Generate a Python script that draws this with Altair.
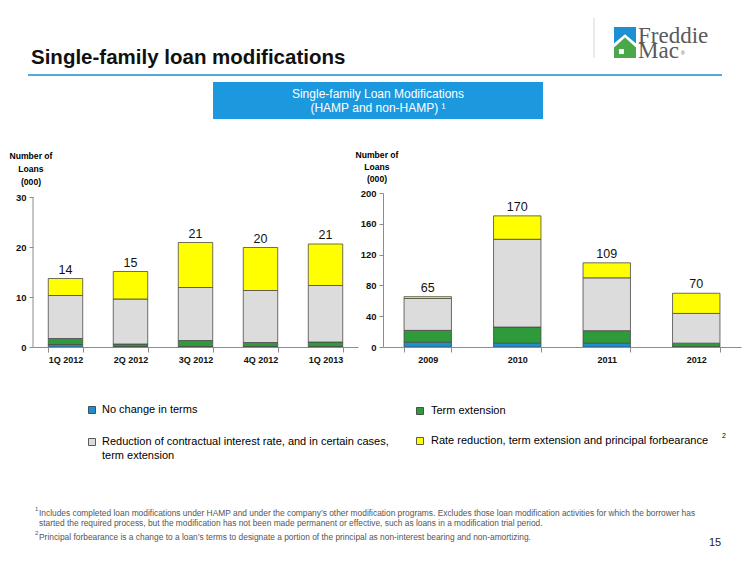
import altair as alt
import pandas as pd

# ---------------- data ----------------
quarters = ["1Q 2012", "2Q 2012", "3Q 2012", "4Q 2012", "1Q 2013"]
q_no_change = [0.5, 0.1, 0.1, 0.1, 0.1]
q_term_ext = [1.2, 0.5, 1.2, 0.8, 0.9]
q_rate_red = [8.6, 9.0, 10.6, 10.4, 11.3]
q_forbear = [3.4, 5.5, 9.0, 8.6, 8.3]
q_labels = ["14", "15", "21", "20", "21"]

years = ["2009", "2010", "2011", "2012"]
y_no_change = [6.3, 5.0, 5.0, 0.4]
y_term_ext = [15.3, 20.9, 16.2, 4.6]
y_rate_red = [41.4, 114.0, 68.6, 38.6]
y_forbear = [2.4, 30.4, 19.5, 26.2]
y_labels = ["65", "170", "109", "70"]

series_names = [
    "No change in terms",
    "Term extension",
    "Reduction of contractual interest rate, and in certain cases, term extension",
    "Rate reduction, term extension and principal forbearance",
]
series_colors = ["#1b8fd2", "#2e9a3a", "#dcdcdc", "#ffff00"]

left_ticks = [0, 10, 20, 30]
right_ticks = [0, 40, 80, 120, 160, 200]

FONT = "Liberation Sans, Arial, sans-serif"
AX = "#8c8c8c"
ONE = pd.DataFrame({"k": [0]})


def long_df(cats, cols):
    rows = []
    for i, c in enumerate(cats):
        for k, col in enumerate(cols):
            rows.append({"period": c, "series": series_names[k], "ord": k, "value": col[i]})
    return pd.DataFrame(rows)


def totals_df(cats, cols, labels):
    return pd.DataFrame({
        "period": cats,
        "total": [sum(col[i] for col in cols) for i in range(len(cats))],
        "label": labels,
    })


def txt(s, x, y, size=11, weight="normal", color="#000000", align="left",
        baseline="middle", font=FONT, **kw):
    return alt.Chart(ONE).mark_text(
        text=s, fontSize=size, fontWeight=weight, color=color, align=align,
        baseline=baseline, font=font, **kw
    ).encode(x=alt.value(x), y=alt.value(y))


def box(x, x2, y, y2, color):
    return alt.Chart(ONE).mark_rect(color=color).encode(
        x=alt.value(x), x2=alt.value(x2), y=alt.value(y), y2=alt.value(y2))


def rule(x, x2, y, y2, color, w):
    return alt.Chart(ONE).mark_rule(color=color, strokeWidth=w).encode(
        x=alt.value(x), x2=alt.value(x2), y=alt.value(y), y2=alt.value(y2))


def square(x, y, color):
    return alt.Chart(ONE).mark_point(
        shape="square", filled=True, size=49, fill=color, stroke="#333333",
        strokeWidth=0.8, opacity=1
    ).encode(x=alt.value(x), y=alt.value(y))


def shape(path, x, y, size, color):
    return alt.Chart(ONE).mark_point(
        shape=path, filled=True, size=size, fill=color, strokeWidth=0, opacity=1
    ).encode(x=alt.value(x), y=alt.value(y))


def panel(cats, cols, labels, ymax, ticks, own_domain):
    df = long_df(cats, cols)
    tot = totals_df(cats, cols, labels)
    xs = alt.Scale(paddingInner=0.47, paddingOuter=0.235)
    ys = alt.Scale(domain=[0, ymax], nice=False, zero=True)
    xaxis = alt.Axis(title=None, labelAngle=0, tickBand="extent", labelFont=FONT,
                     labelFontSize=9, labelFontWeight="bold", labelColor="#111111",
                     labelPadding=3, tickSize=5, domainColor=AX, tickColor=AX, zindex=1)
    yaxis = alt.Axis(title=None, values=ticks, grid=False, labelFont=FONT,
                     labelFontSize=9.5, labelFontWeight="bold", labelColor="#111111",
                     labelPadding=3, tickSize=4, domain=own_domain,
                     domainColor=AX, tickColor=AX, zindex=1)
    bars = alt.Chart(df).mark_bar(stroke="#4a4a4a", strokeWidth=0.8).encode(
        x=alt.X("period:N", sort=cats, scale=xs, axis=xaxis),
        y=alt.Y("value:Q", stack="zero", scale=ys, axis=yaxis),
        color=alt.Color("series:N", scale=alt.Scale(domain=series_names, range=series_colors),
                        legend=None),
        order=alt.Order("ord:Q", sort="ascending"),
    )
    labels_layer = alt.Chart(tot).mark_text(
        baseline="bottom", dy=-2, fontSize=12.5, font=FONT, color="#111111"
    ).encode(
        x=alt.X("period:N", sort=cats, scale=xs, axis=xaxis),
        y=alt.Y("total:Q", scale=ys, axis=yaxis),
        text="label:N",
    )
    layers = [bars, labels_layer]
    if not own_domain:
        layers.append(
            alt.Chart(ONE).mark_rule(color=AX, strokeWidth=1).encode(
                x=alt.value(0),
                y=alt.YDatum(0, scale=ys, axis=yaxis),
                y2=alt.Y2Datum(ticks[-1]),
            )
        )
    return layers


# ---------------- left panel (view origin at page 33,193) ----------------
left_layers = panel(quarters, [q_no_change, q_term_ext, q_rate_red, q_forbear],
                    q_labels, 30.8, left_ticks, False)
left_layers += [
    # page header
    txt("Single-family loan modifications", -2, -129, size=20.5, weight="bold",
        baseline="alphabetic", color="#111111"),
    rule(-5, 689, -118, -118, "#55aadd", 2),
    rule(561, 561, -175, -135, "#d5d5d5", 1),
    shape("M-1,-1.41L1,-1.41L1,0.1L0,-0.75L-1,0.1Z", 592, -150.5, 484, "#1f8fd3"),
    shape("M0,-0.45L1,0.45L1,1.41L-1,1.41L-1,0.45Z", 592, -150.5, 484, "#4aa84a"),
    shape("M-0.55,0.6L-0.1,0.6L-0.1,1.05L-0.55,1.05Z", 592, -150.5, 484, "#ffffff"),
    txt(["Freddie", "Mac"], 605, -150, size=23, baseline="alphabetic", color="#5a5a5a",
        font="Liberation Serif, serif", lineHeight=15),
    txt("®", 648, -138, size=5, baseline="alphabetic", color="#5a5a5a"),
    # blue banner
    box(180, 510, -111, -74, "#1b98de"),
    txt("Single-family Loan Modifications", 345, -99, size=12, color="#ffffff", align="center"),
    txt("(HAMP and non-HAMP) ¹", 345, -85, size=12, color="#ffffff", align="center"),
    # axis title
    txt(["Number of", "Loans", "(000)"], -2, -37, size=8.6, weight="bold", align="center",
        baseline="middle", lineHeight=13),
    # legend
    square(59, 217, series_colors[0]),
    txt(series_names[0], 69, 217),
    square(387, 218, series_colors[1]),
    txt(series_names[1], 398, 218),
    square(59, 249, series_colors[2]),
    txt("Reduction of contractual interest rate, and in certain cases,", 69, 249),
    txt("term extension", 69, 263),
    square(387, 248, series_colors[3]),
    txt(series_names[3], 398, 248),
    txt("2", 689, 243, size=7),
    # footnotes
    txt("1", 2, 316, size=6, color="#555555"),
    txt("Includes completed loan modifications under HAMP and under the company\u2019s other "
        "modification programs.  Excludes those loan modification activities for which the borrower has",
        6, 320, size=8.4, color="#555555"),
    txt("started the required process, but the modification has not been made permanent or "
        "effective, such as loans in a modification trial period.",
        6, 330, size=8.4, color="#555555"),
    txt("2", 2, 340, size=6, color="#555555"),
    txt("Principal forbearance is a change to a loan\u2019s terms to designate a portion of the "
        "principal as non-interest bearing and non-amortizing.",
        6, 344, size=8.4, color="#555555"),
    txt("15", 682, 350, size=11, align="center", color="#222222"),
]
left = alt.layer(*left_layers).properties(width=325, height=154)

# ---------------- right panel (view origin at page 383,193) ----------------
right_layers = panel(years, [y_no_change, y_term_ext, y_rate_red, y_forbear],
                     y_labels, 200, right_ticks, True)
right_layers += [
    txt(["Number of", "Loans", "(000)"], -6, -38, size=8.6, weight="bold", align="center",
        baseline="middle", lineHeight=12),
]
right = alt.layer(*right_layers).properties(width=358, height=154)

chart = alt.hconcat(
    left, right, spacing=25, bounds="flush",
    autosize=alt.AutoSizeParams(type="none"),
    padding={"left": 25, "top": 185, "right": 709, "bottom": 361},
).configure(font=FONT).configure_view(stroke=None)

chart.save("out.html", embed_options={"renderer": "svg", "actions": False})
